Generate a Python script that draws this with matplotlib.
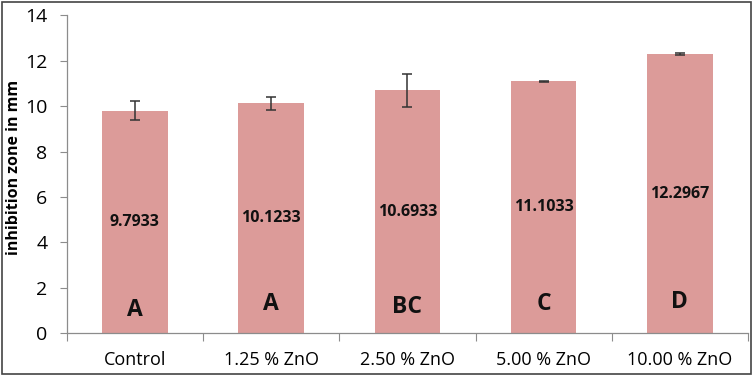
# Inhibition zone bar chart with error bars and group letters

import matplotlib.pyplot as plt
import numpy as np
from matplotlib.patches import Rectangle

# %% Data
categories = ['Control', '1.25 % ZnO', '2.50 % ZnO', '5.00 % ZnO', '10.00 % ZnO']
means = [9.7933, 10.1233, 10.6933, 11.1033, 12.2967]
errors = [0.42, 0.30, 0.73, 0.03, 0.06]
groups = ['A', 'A', 'BC', 'C', 'D']
group_y = [1.0, 1.3, 1.15, 1.3, 1.38]

BAR_COLOR = '#DC9B99'
AXIS_COLOR = '#8C8C8C'

plt.rcParams['font.family'] = ['Open Sans', 'DejaVu Sans']

# %% Plot
fig = plt.figure(figsize=(7.53, 3.75), dpi=100)
ax = fig.add_axes([0.0886, 0.112, 0.9048, 0.8467])

x = np.arange(len(categories))
ax.bar(x, means, width=0.48, color=BAR_COLOR, zorder=2)
ax.errorbar(x, means, yerr=errors, fmt='none', ecolor='#333333',
            elinewidth=1.1, capsize=3.3, capthick=1.1, zorder=3)

for xi, m in zip(x, means):
    ax.text(xi, m / 2, f'{m:g}', ha='center', va='center',
            fontsize=11.5, fontweight='bold', color='#111111', zorder=4)

for xi, g, gy in zip(x, groups, group_y):
    ax.text(xi, gy, g, ha='center', va='center',
            fontsize=16.5, fontweight='bold', color='#111111', zorder=4)

ax.set_xlim(-0.5, len(categories) - 0.5)
ax.set_ylim(0, 14)
ax.set_yticks(np.arange(0, 15, 2))

# category labels at centres, tick marks at boundaries
ax.set_xticks(x)
ax.set_xticklabels(categories)
ax.set_xticks(np.arange(-0.5, len(categories)), minor=True)
ax.tick_params(axis='x', which='major', length=0, pad=13, labelsize=13)
ax.tick_params(axis='x', which='minor', length=6, width=0.8, color=AXIS_COLOR)
ax.tick_params(axis='y', length=5, width=0.8, color=AXIS_COLOR, pad=9, labelsize=14)

for side in ['top', 'right']:
    ax.spines[side].set_visible(False)
for side in ['left', 'bottom']:
    ax.spines[side].set_color(AXIS_COLOR)
    ax.spines[side].set_linewidth(0.9)

ax.set_ylabel('inhibition zone in mm', fontsize=11.5, fontweight='bold')
ax.yaxis.set_label_coords(-0.066, 0.52)

# outer frame
fig.patches.append(Rectangle((0.003, 0.004), 0.994, 0.991, transform=fig.transFigure,
                             fill=False, edgecolor='#444444', linewidth=1.2))

plt.savefig('out.png', dpi=100)
plt.close()
